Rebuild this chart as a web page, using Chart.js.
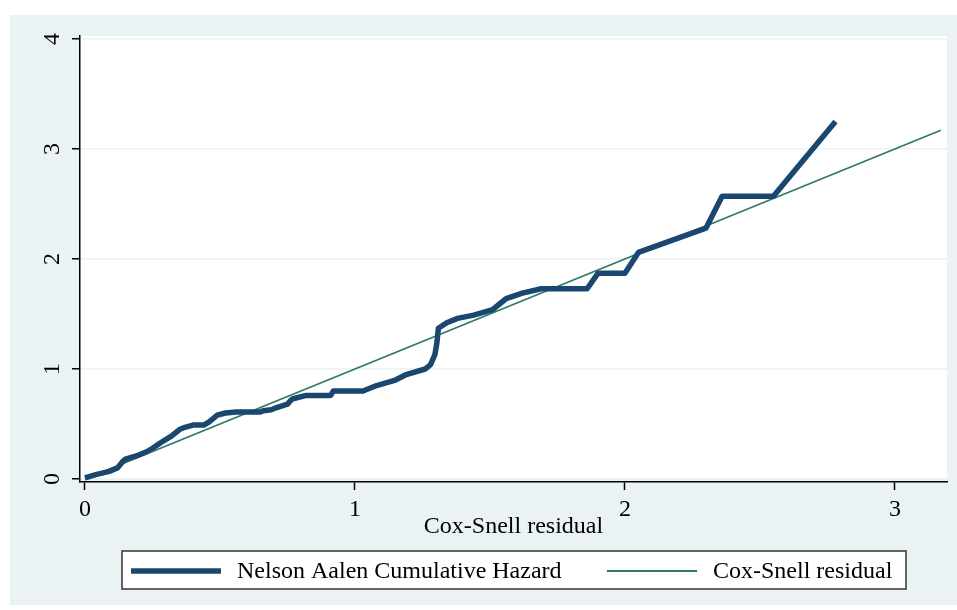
<!DOCTYPE html>
<html>
<head>
<meta charset="utf-8">
<script src="https://cdn.jsdelivr.net/npm/chart.js@4.4.1/dist/chart.umd.min.js"></script>
<style>
html, body { margin: 0; padding: 0; background: #fff; }
canvas { display: block; }
</style>
</head>
<body>
<canvas id="chart" width="957" height="610"></canvas>
<script>
// Nelson-Aalen cumulative hazard against the Cox-Snell residual
const naX = [0.00, 0.04, 0.09, 0.12, 0.14, 0.15, 0.19, 0.23, 0.25, 0.28, 0.30, 0.32, 0.35, 0.37,
  0.40, 0.44, 0.46, 0.48, 0.49, 0.52, 0.56, 0.65, 0.66, 0.69, 0.71, 0.75, 0.76, 0.77, 0.82, 0.91,
  0.92, 1.03, 1.08, 1.15, 1.19, 1.26, 1.28, 1.296, 1.303, 1.309, 1.34, 1.38, 1.44, 1.51, 1.54, 1.56,
  1.62, 1.69, 1.86, 1.90, 2.00, 2.05, 2.30, 2.36, 2.55, 2.78];
const naY = [0.01, 0.04, 0.07, 0.10, 0.16, 0.18, 0.21, 0.25, 0.28, 0.33, 0.36, 0.39, 0.45, 0.47,
  0.49, 0.49, 0.52, 0.56, 0.58, 0.60, 0.61, 0.61, 0.62, 0.63, 0.65, 0.68, 0.71, 0.73, 0.76, 0.76,
  0.80, 0.80, 0.85, 0.90, 0.95, 1.00, 1.04, 1.13, 1.23, 1.37, 1.42, 1.46, 1.49, 1.54, 1.60, 1.64,
  1.69, 1.73, 1.73, 1.87, 1.87, 2.06, 2.28, 2.57, 2.57, 3.25];
// 45 degree reference line
const csX = [0.00, 3.17];
const csY = [0.00, 3.17];

const xTicks = [0, 1, 2, 3];
const yTicks = [0, 1, 2, 3, 4];
const seriesNames = ['Nelson Aalen Cumulative Hazard', 'Cox-Snell residual'];
const xTitle = 'Cox-Snell residual';

const serif = '"Liberation Serif", "Times New Roman", serif';
const panel = '#eaf2f3';

// fond gris-bleu de Stata + zone de tracé blanche
const backdrop = {
  id: 'backdrop',
  beforeDraw(chart) {
    const c = chart.ctx, a = chart.chartArea;
    c.save();
    c.fillStyle = '#fff';
    c.fillRect(0, 0, chart.width, chart.height);
    c.fillStyle = panel;
    c.fillRect(10, 15, chart.width - 10, chart.height - 20);
    c.fillStyle = '#fff';
    c.fillRect(a.left, a.top, a.right - a.left, a.bottom - a.top - 4);
    c.restore();
  }
};

// légende encadrée sous le graphique
const boxLegend = {
  id: 'boxLegend',
  afterDraw(chart) {
    const c = chart.ctx;
    const starts = [131, 607];
    const yMid = 571;
    c.save();
    c.fillStyle = '#fff';
    c.fillRect(122, 551, 784, 38);
    c.strokeStyle = '#333';
    c.lineWidth = 1.5;
    c.strokeRect(122, 551, 784, 38);
    c.font = '24px ' + serif;
    c.textBaseline = 'middle';
    chart.data.datasets.forEach((ds, i) => {
      const x0 = starts[i];
      c.strokeStyle = ds.borderColor;
      c.lineWidth = ds.borderWidth;
      c.beginPath();
      c.moveTo(x0, yMid);
      c.lineTo(x0 + 90, yMid);
      c.stroke();
      c.fillStyle = '#000';
      c.fillText(ds.label, x0 + 106, yMid + 1);
    });
    c.restore();
  }
};

const ctx = document.getElementById('chart').getContext('2d');
const chart = new Chart(ctx, {
  type: 'line',
  data: {
    datasets: [
      {
        label: seriesNames[0],
        data: naX.map((x, i) => ({ x: x, y: naY[i] })),
        borderColor: '#1a476f',
        borderWidth: 5.5,
        borderJoinStyle: 'round',
        pointRadius: 0,
        tension: 0,
        fill: false
      },
      {
        label: seriesNames[1],
        data: csX.map((x, i) => ({ x: x, y: csY[i] })),
        borderColor: '#2f7a66',
        borderWidth: 1.8,
        pointRadius: 0,
        tension: 0,
        fill: false
      }
    ]
  },
  options: {
    responsive: false,
    animation: false,
    layout: { padding: { top: 36, left: 10, right: 10, bottom: 69 } },
    plugins: {
      legend: { display: false },
      tooltip: { enabled: false }
    },
    scales: {
      x: {
        type: 'linear',
        min: -0.0185,
        max: 3.193,
        afterBuildTicks: (s) => { s.ticks = xTicks.map(v => ({ value: v })); },
        afterFit: (s) => { s.height = 59; },
        grid: { drawOnChartArea: false, tickColor: '#000', tickLength: 8, tickWidth: 1.5 },
        border: { color: '#000', width: 1.5 },
        ticks: { color: '#000', font: { family: serif, size: 24 }, padding: 5, maxRotation: 0 },
        title: { display: true, text: xTitle, color: '#000', font: { family: serif, size: 24 }, padding: { top: 0, bottom: 0 } }
      },
      y: {
        type: 'linear',
        min: -0.027,
        max: 4.027,
        afterBuildTicks: (s) => { s.ticks = yTicks.map(v => ({ value: v })); },
        afterFit: (s) => { s.width = 70; },
        grid: { color: panel, lineWidth: 1.5, tickColor: '#000', tickLength: 8, tickWidth: 1.5 },
        border: { color: '#000', width: 1.5 },
        ticks: { color: '#000', font: { family: serif, size: 24 }, padding: 13, minRotation: 90, maxRotation: 90, crossAlign: 'center' }
      }
    }
  },
  plugins: [backdrop, boxLegend]
});
</script>
</body>
</html>
